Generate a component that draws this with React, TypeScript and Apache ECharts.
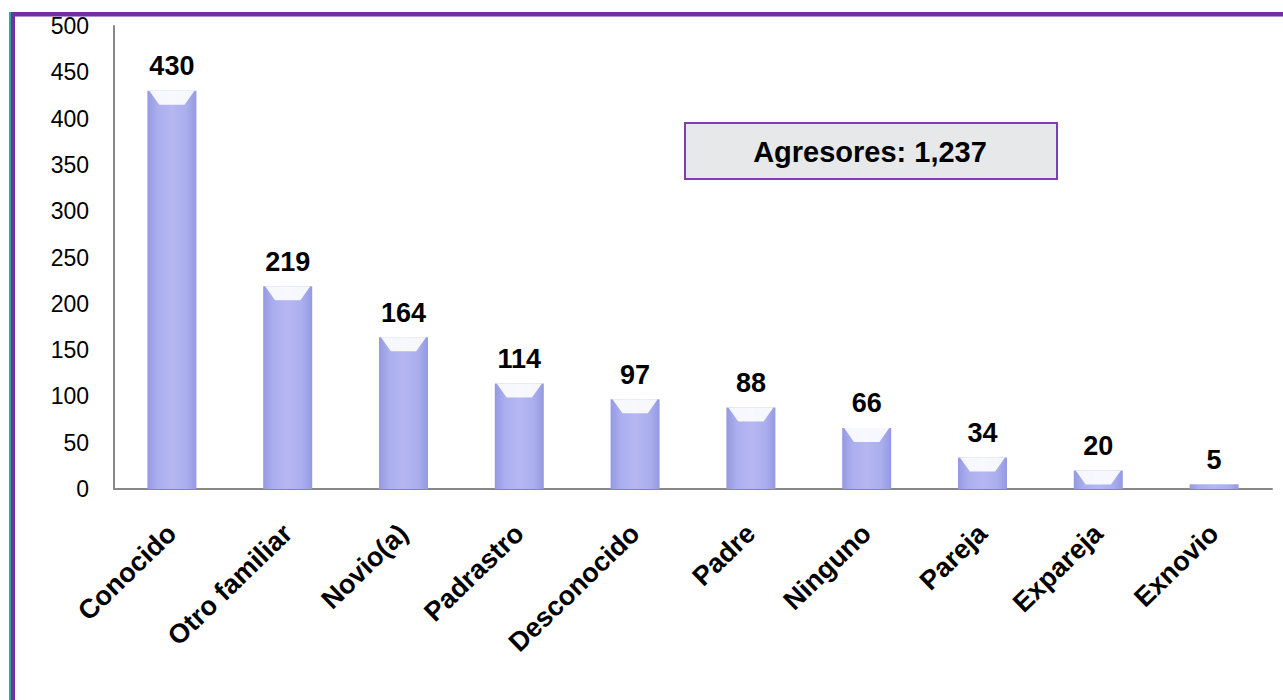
import React, { useEffect, useRef } from "react";
import * as echarts from "echarts";

const categories = ["Conocido", "Otro familiar", "Novio(a)", "Padrastro", "Desconocido", "Padre", "Ninguno", "Pareja", "Expareja", "Exnovio"];
const values = [430, 219, 164, 114, 97, 88, 66, 34, 20, 5];
const yTicks = { min: 0, max: 500, interval: 50 };
const boxText = "Agresores: 1,237";

export default function App() {
  const ref = useRef<HTMLDivElement>(null);
  useEffect(() => {
    if (!ref.current) return;
    const chart = echarts.init(ref.current, undefined, { renderer: "svg" });
    const font = "Liberation Sans, Arial, sans-serif";
    chart.setOption({
      animation: false,
      backgroundColor: "#ffffff",
      grid: { left: 114, right: 11, top: 26, bottom: 211, containLabel: false },
      xAxis: {
        type: "category",
        data: categories,
        axisLine: { show: true, lineStyle: { color: "#888888", width: 2 } },
        axisTick: { show: false },
        axisLabel: {
          rotate: 44,
          interval: 0,
          margin: 40,
          color: "#000",
          fontFamily: font,
          fontWeight: "bold",
          fontSize: 27,
        },
      },
      yAxis: {
        type: "value",
        min: yTicks.min,
        max: yTicks.max,
        interval: yTicks.interval,
        axisLine: { show: true, lineStyle: { color: "#888888", width: 2 } },
        axisTick: { show: false },
        splitLine: { show: false },
        axisLabel: { color: "#000", fontFamily: font, fontSize: 23, margin: 25 },
      },
      series: [
        {
          type: "bar",
          data: values,
          barWidth: 49,
          barGap: "-100%",
          itemStyle: {
            color: new echarts.graphic.LinearGradient(0, 0, 1, 0, [
              { offset: 0, color: "#9499e2" },
              { offset: 0.2, color: "#aaaeee" },
              { offset: 0.5, color: "#b4b7f1" },
              { offset: 0.8, color: "#aaaeee" },
              { offset: 1, color: "#9499e2" },
            ]),
          },
          label: {
            show: true,
            position: "top",
            distance: 11,
            color: "#000",
            fontFamily: font,
            fontWeight: "bold",
            fontSize: 27,
          },
        },
        {
          type: "pictorialBar",
          data: values.map((v) => (v > 10 ? v : { value: v, symbol: "none" })),
          symbol: "path://M0,0L100,0L78,100L22,100Z",
          symbolSize: [45, 14],
          symbolPosition: "end",
          barGap: "-100%",
          itemStyle: { color: "rgba(255,255,255,0.9)" },
          z: 3,
          silent: true,
        },
      ],
      graphic: [
        { type: "rect", shape: { x: 9, y: 12, width: 2, height: 700 }, style: { fill: "#2aa89a" } },
        { type: "rect", shape: { x: 11, y: 12, width: 4, height: 700 }, style: { fill: "#7030a0" } },
        { type: "rect", shape: { x: 11, y: 12, width: 1272, height: 4 }, style: { fill: "#7030a0" } },
        { type: "rect", shape: { x: 15, y: 16, width: 1268, height: 1 }, style: { fill: "#b190d0" } },
        {
          type: "rect",
          shape: { x: 685, y: 123, width: 372, height: 56 },
          style: { fill: "#e7e8ea", stroke: "#7b3fb3", lineWidth: 2 },
        },
        {
          type: "text",
          x: 870,
          y: 152,
          style: {
            text: boxText,
            fill: "#000",
            font: `bold 29px ${font}`,
            align: "center",
            verticalAlign: "middle",
          },
        },
      ],
    });
    return () => chart.dispose();
  }, []);
  return <div ref={ref} style={{ position: "absolute", left: 0, top: 0, width: 1283, height: 700 }} />;
}
